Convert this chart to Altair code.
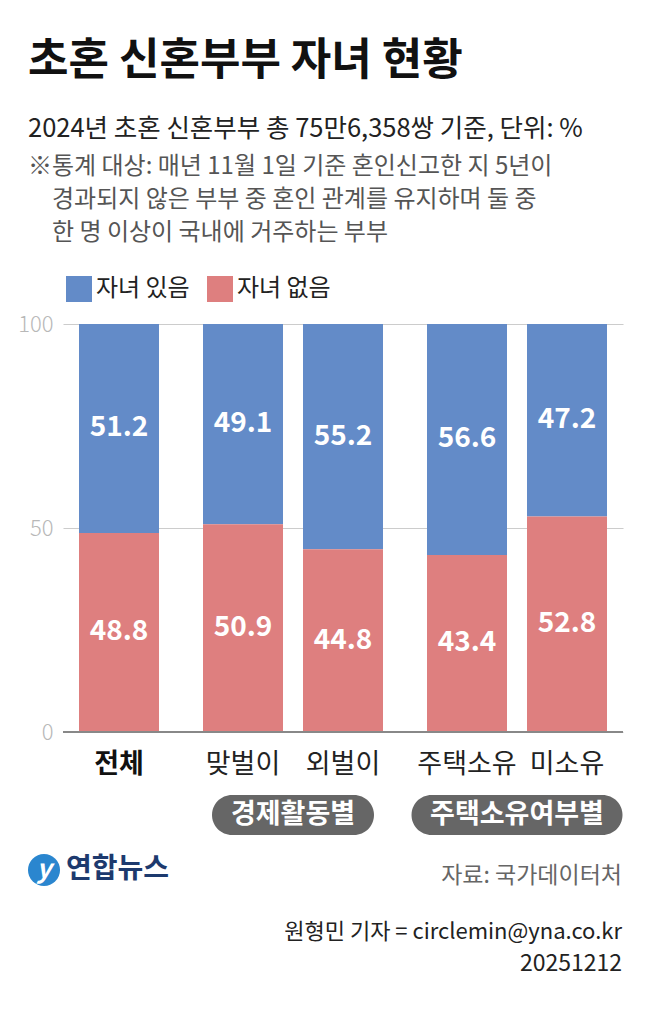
import altair as alt
import pandas as pd

# ---------------- data ----------------
categories = ["전체", "맞벌이", "외벌이", "주택소유", "미소유"]
groups = ["전체", "경제활동별", "경제활동별", "주택소유여부별", "주택소유여부별"]
with_children = [51.2, 49.1, 55.2, 56.6, 47.2]
without_children = [48.8, 50.9, 44.8, 43.4, 52.8]
series = ["자녀 있음", "자녀 없음"]
y_ticks = [0, 50, 100]

title_text = "초혼 신혼부부 자녀 현황"
subtitle_text = "2024년 초혼 신혼부부 총 75만6,358쌍 기준, 단위: %"
note_lines = [
    "※통계 대상: 매년 11월 1일 기준 혼인신고한 지 5년이",
    "경과되지 않은 부부 중 혼인 관계를 유지하며 둘 중",
    "한 명 이상이 국내에 거주하는 부부",
]
source_text = "자료: 국가데이터처"
byline_text = "원형민 기자 = circlemin@yna.co.kr"
date_text = "20251212"
logo_text = "연합뉴스"

# ---------------- style ----------------
FONT = "Noto Sans CJK KR"
colors = ["#638BC8", "#DE7F7F"]
GROUP_GAP = 0.24
HALF = 0.4
W, H = 560, 408
pill_half = {"경제활동별": 0.81, "주택소유여부별": 1.055}

group_order = list(dict.fromkeys(groups))
pos = [i + GROUP_GAP * group_order.index(g) for i, g in enumerate(groups)]

rows = []
for c, p, a, b in zip(categories, pos, with_children, without_children):
    rows.append({"category": c, "pos": p, "x0": p - HALF, "x1": p + HALF,
                 "series": series[0], "value": a, "order": 1})
    rows.append({"category": c, "pos": p, "x0": p - HALF, "x1": p + HALF,
                 "series": series[1], "value": b, "order": 0})
df = pd.DataFrame(rows)

xscale = alt.Scale(domain=[-0.56, 5.04], nice=False, zero=False)
yscale = alt.Scale(domain=[0, 100], nice=False)

base = alt.Chart(df).transform_stack(
    stack="value", groupby=["category"], as_=["y0", "y1"],
    sort=[alt.SortField("order", order="ascending")]
).transform_calculate(mid="(datum.y0 + datum.y1) / 2")

bars = base.mark_bar().encode(
    x=alt.X("x0:Q", scale=xscale, axis=None),
    x2="x1:Q",
    y=alt.Y("y0:Q", scale=yscale, title=None,
            axis=alt.Axis(values=y_ticks, grid=True, gridColor="#cccccc",
                          gridWidth=1.2, domain=False, ticks=False,
                          labelColor="#b8b8b8", labelFontSize=22,
                          labelFontWeight=300, labelPadding=10)),
    y2="y1:Q",
    color=alt.Color("series:N", scale=alt.Scale(domain=series, range=colors),
                    legend=alt.Legend(title=None, orient="none", legendX=3,
                                      legendY=-48, direction="horizontal",
                                      symbolType="square", symbolSize=676,
                                      symbolStrokeWidth=0, symbolOpacity=1,
                                      labelFontSize=24, labelColor="#222222",
                                      labelOffset=4, columnPadding=17)),
)

bar_labels = base.mark_text(color="white", fontSize=28, fontWeight="bold",
                            baseline="middle").encode(
    x=alt.X("pos:Q", scale=xscale),
    y=alt.Y("mid:Q", scale=yscale),
    text=alt.Text("value:Q", format=".1f"),
)

baseline_rule = alt.Chart(pd.DataFrame({"y": [0]})).mark_rule(
    color="#888888", strokeWidth=2).encode(y=alt.Y("y:Q", scale=yscale))

cat_df = pd.DataFrame({"category": categories, "pos": pos})
cat_bold = alt.Chart(cat_df).transform_filter(
    alt.datum.category == categories[0]).mark_text(
    fontSize=27, fontWeight="bold", color="#111111", baseline="middle").encode(
    x=alt.X("pos:Q", scale=xscale), y=alt.value(H + 33), text="category:N")
cat_reg = alt.Chart(cat_df).transform_filter(
    alt.datum.category != categories[0]).mark_text(
    fontSize=27, color="#222222", baseline="middle").encode(
    x=alt.X("pos:Q", scale=xscale), y=alt.value(H + 33), text="category:N")

pill_rows = []
for g in group_order[1:]:
    ps = [p for p, gg in zip(pos, groups) if gg == g]
    c = sum(ps) / len(ps)
    pill_rows.append({"group": g, "c": c, "p0": c - pill_half[g], "p1": c + pill_half[g]})
pill_df = pd.DataFrame(pill_rows)
pills = alt.Chart(pill_df).mark_rect(cornerRadius=20, color="#666666").encode(
    x=alt.X("p0:Q", scale=xscale), x2="p1:Q",
    y=alt.value(H + 63), y2=alt.value(H + 103))
pill_text = alt.Chart(pill_df).mark_text(
    color="white", fontSize=27, fontWeight="bold", baseline="middle").encode(
    x=alt.X("c:Q", scale=xscale), y=alt.value(H + 83), text="group:N")


def label(text, x, y, size, color, weight="normal", align="left", style=None):
    kw = dict(fontSize=size, color=color, fontWeight=weight, align=align,
              baseline="middle")
    if style:
        kw["fontStyle"] = style
    return alt.Chart(pd.DataFrame({"t": [text]})).mark_text(**kw).encode(
        x=alt.value(x), y=alt.value(y), text="t:N")


texts = [
    label(title_text, -35, -262, 44, "#111111", "bold"),
    label(subtitle_text, -35, -195, 25.5, "#222222"),
    label(note_lines[0], -35, -157, 24, "#555555"),
    label(note_lines[1], -11, -124, 24, "#555555"),
    label(note_lines[2], -11, -91, 24, "#555555"),
    label(source_text, 559, 552, 23, "#666666", align="right"),
    label(byline_text, 559, 608, 22, "#222222", align="right"),
    label(date_text, 559, 640, 23, "#222222", align="right"),
    label(logo_text, 3, 546, 28, "#1d3a6e", "bold"),
]

logo_circle = alt.Chart(pd.DataFrame({"t": ["y"]})).mark_point(
    shape="circle", filled=True, size=1024, color="#2a86cf", opacity=1).encode(
    x=alt.value(-19), y=alt.value(546))
logo_y = label("y", -19, 546, 26, "white", "bold", align="center", style="italic")

chart = alt.layer(
    bars, baseline_rule, bar_labels, cat_bold, cat_reg, pills, pill_text,
    logo_circle, logo_y, *texts
).properties(
    width=W, height=H,
    padding={"left": 63, "top": 324, "right": 27, "bottom": 300},
    autosize=alt.AutoSizeParams(type="none"),
    background="white",
).configure(font=FONT).configure_view(stroke=None)

chart.save("out.html", embed_options={"renderer": "svg", "actions": False})
